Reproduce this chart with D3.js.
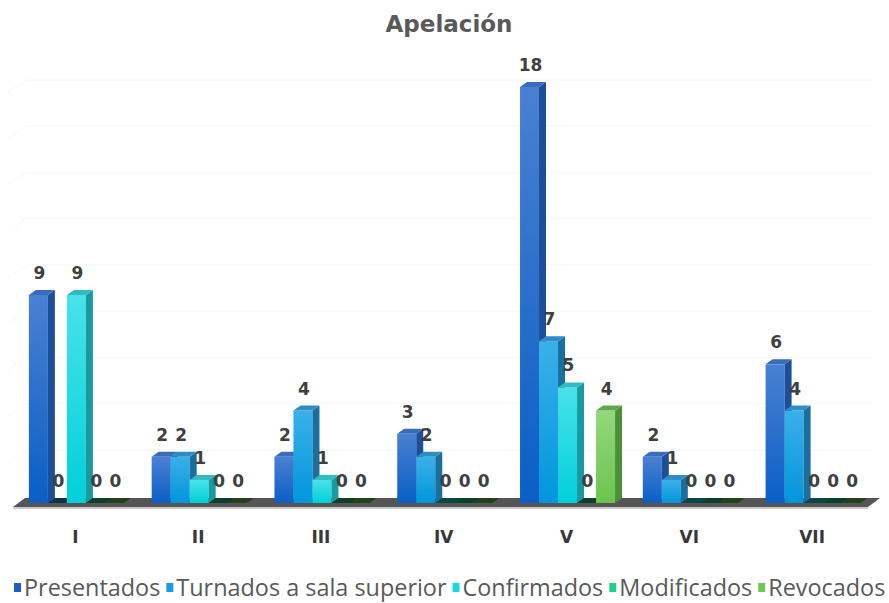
<!DOCTYPE html>
<html><head><meta charset="utf-8">
<script src="https://cdn.jsdelivr.net/npm/d3@7/dist/d3.min.js"></script>
<style>html,body{margin:0;padding:0;background:#fff;}svg{display:block;}</style>
</head><body>
<svg id="chart" width="889" height="603"></svg>
<script>
const title = "Apelación";
const categories = ["I","II","III","IV","V","VI","VII"];
const seriesNames = ["Presentados","Turnados a sala superior","Confirmados","Modificados","Revocados"];
const presentados = [9,2,2,3,18,2,6];
const turnados    = [0,2,4,2,7,1,4];
const confirmados = [9,1,1,0,5,0,0];
const modificados = [0,0,0,0,0,0,0];
const revocados   = [0,0,0,0,4,0,0];
const gridTicks = [2,4,6,8,10,12,14,16,18];

const seriesValues = [presentados, turnados, confirmados, modificados, revocados];
const palette = [
  {top:"#4a80d2", bot:"#0a5fc6", side:"#1c4f98", cap:"#3a6cbc", leg:"#1a5fc4"},
  {top:"#3ab0ea", bot:"#0096dc", side:"#1a6f9e", cap:"#2f8cc6", leg:"#1a9ae0"},
  {top:"#48e2ea", bot:"#00d0da", side:"#189aa0", cap:"#30bcc2", leg:"#1ad6de"},
  {top:"#30d49a", bot:"#10c888", side:"#158a60", cap:"#20a878", leg:"#1fd08e"},
  {top:"#92d87c", bot:"#6cc44e", side:"#4c8f3a", cap:"#5fa84a", leg:"#72c854"}
];

const svg = d3.select("#chart");
const W = 889, H = 603;
const dx = 7, dy = 5;
const boldFont = "'DejaVu Sans', Lato, sans-serif";

const x0 = d3.scaleBand().domain(categories).range([15, 874.5]).paddingInner(0.226).paddingOuter(0.113);
const x1 = d3.scaleBand().domain(d3.range(seriesNames.length)).range([0, x0.bandwidth()]);
const y = d3.scaleLinear().domain([0, 18]).range([503, 87]);

const defs = svg.append("defs");
palette.forEach((p,i)=>{
  const g = defs.append("linearGradient").attr("id","g"+i).attr("x1",0).attr("y1",0).attr("x2",0).attr("y2",1);
  g.append("stop").attr("offset","0%").attr("stop-color",p.top);
  g.append("stop").attr("offset","100%").attr("stop-color",p.bot);
});

// title
svg.append("text").attr("x", 449).attr("y", 32).attr("text-anchor","middle")
  .attr("font-family",boldFont).attr("font-weight","bold")
  .attr("font-size", 23).attr("fill","#595959").text(title);

// gridlines (back wall)
const gl = svg.append("g");
gridTicks.forEach(t=>{
  const yy = y(t) - 7;
  gl.append("path").attr("d", `M8,${yy+12}L27,${yy}L872,${yy}`)
    .attr("fill","none").attr("stroke","#f6f6f6").attr("stroke-width",1);
});

// floor
const fl = 13, fr = 868, fy = 504;
svg.append("path").attr("d", `M${fl},${fy+3}L${fr},${fy+3}L${fr},${fy+5}L${fl},${fy+5}Z`).attr("fill","#c8c8c8");
svg.append("path").attr("d", `M${fl},${fy+3}L${fr},${fy+3}L${fr+12},${fy-6}L${fl+12},${fy-6}Z`).attr("fill","#555555");

// bars
const bars = svg.append("g");
categories.forEach((c,ci)=>{
  seriesValues.forEach((vals,si)=>{
    const v = vals[ci];
    const xl = x0(c) + x1(si);
    const w = x1.bandwidth();
    const yt = y(v), yb = y(0);
    const p = palette[si];
    if (v === 0) {
      bars.append("path").attr("d", `M${xl},${yb}L${xl+w},${yb}L${xl+w+dx},${yb-dy}L${xl+dx},${yb-dy}Z`)
        .attr("fill", d3.color(p.side).darker(2.2));
      return;
    }
    bars.append("rect").attr("x", xl).attr("y", yt).attr("width", w).attr("height", yb-yt).attr("fill", `url(#g${si})`);
    bars.append("path").attr("d", `M${xl+w},${yt}L${xl+w+dx},${yt-dy}L${xl+w+dx},${yb-dy}L${xl+w},${yb}Z`).attr("fill", p.side);
    bars.append("path").attr("d", `M${xl},${yt}L${xl+w},${yt}L${xl+w+dx},${yt-dy}L${xl+dx},${yt-dy}Z`).attr("fill", p.cap);
  });
});

// value labels
const lab = svg.append("g").attr("font-family",boldFont).attr("font-weight","bold")
  .attr("font-size",17).attr("fill","#404040").attr("text-anchor","middle");
categories.forEach((c,ci)=>{
  seriesValues.forEach((vals,si)=>{
    const v = vals[ci];
    const cx = x0(c) + x1(si) + x1.bandwidth()/2 + 1;
    lab.append("text").attr("x", cx).attr("y", y(v) - 16).text(v);
  });
});

// category axis labels
const ax = svg.append("g").attr("font-family",boldFont).attr("font-weight","bold")
  .attr("font-size",17).attr("fill","#383838").attr("text-anchor","middle");
categories.forEach(c=>{
  ax.append("text").attr("x", x0(c) + x0.bandwidth()/2 - 1).attr("y", 543).text(c);
});

// legend
const leg = svg.append("g");
const gap = 6, sq = 10;
const items = seriesNames.map((n,i)=>{
  const g = leg.append("g");
  g.append("rect").attr("x",0).attr("y",-13).attr("width",7).attr("height",9).attr("fill",palette[i].leg);
  const t = g.append("text").attr("x",sq).attr("y",0).attr("font-family","'Open Sans', sans-serif")
    .attr("font-size",17).attr("fill","#595959").text(n);
  return {g,t};
});
const legLeft = 14, legRight = 886;
const fixedW = gap*(items.length-1) + sq*items.length;
const textW0 = d3.sum(items, it=>it.t.node().getComputedTextLength());
const fs = 17 * (legRight - legLeft - fixedW) / textW0;
items.forEach(it=>it.t.attr("font-size", fs));
let cx = legLeft;
items.forEach(it=>{ it.g.attr("transform",`translate(${cx},596)`); cx += sq + it.t.node().getComputedTextLength() + gap; });
</script>
</body></html>
